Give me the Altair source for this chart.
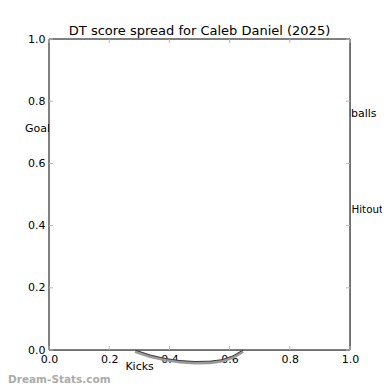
import altair as alt
import pandas as pd

title_text = "DT score spread for Caleb Daniel (2025)"
tick_values = [0.0, 0.2, 0.4, 0.6, 0.8, 1.0]

# category labels (Goals and Handballs partly hidden behind the plot frame)
under_names = ["Goals", "Handballs"]
under_x = [-0.08, 0.907]
under_y = [0.711, 0.759]

side_names = ["Hitout"]
side_x = [1.005]
side_y = [0.449]

bottom_names = ["Kicks"]
bottom_x = [0.301]
bottom_y = [-0.0545]

# the filled spread shape (hanging below the x axis)
shape_x = [0.286, 0.336, 0.385, 0.435, 0.485, 0.535, 0.575, 0.611, 0.645]
shape_y = [0.0, -0.016, -0.027, -0.034, -0.037, -0.036, -0.031, -0.019, 0.0]

watermark = ["Dream-Stats.com"]

W, H = 301, 311
FONT = "DejaVu Sans"


def xenc(field="x"):
    return alt.X(
        f"{field}:Q",
        scale=alt.Scale(domain=[0, 1], nice=False, zero=False),
        axis=alt.Axis(values=tick_values, format=".1f", ticks=False, domain=False,
                      grid=False, title=None, labelFont=FONT, labelFontSize=11,
                      labelColor="black", labelPadding=3, labelFlush=False),
    )


def yenc(field="y"):
    return alt.Y(
        f"{field}:Q",
        scale=alt.Scale(domain=[0, 1], nice=False, zero=False),
        axis=alt.Axis(values=tick_values, format=".1f", ticks=False, domain=False,
                      grid=False, title=None, labelFont=FONT, labelFontSize=11,
                      labelColor="black", labelPadding=4, labelFlush=False),
    )


under_df = pd.DataFrame({"x": under_x, "y": under_y, "t": under_names})
side_df = pd.DataFrame({"x": side_x, "y": side_y, "t": side_names})
bottom_df = pd.DataFrame({"x": bottom_x, "y": bottom_y, "t": bottom_names})
shape_df = pd.DataFrame({"x": shape_x, "y": shape_y, "i": list(range(len(shape_x)))})
frame_df = pd.DataFrame({"x": [0.0], "x2": [1.0], "y": [0.0], "y2": [1.0]})
ticks_df = pd.DataFrame({"v": tick_values})
wm_df = pd.DataFrame({"t": watermark})

under_text = alt.Chart(under_df).mark_text(
    align="left", baseline="middle", font=FONT, fontSize=11, color="black"
).encode(x=xenc(), y=yenc(), text="t:N")

frame = alt.Chart(frame_df).mark_rect(
    fill="white", stroke="black", strokeWidth=1
).encode(x=xenc(), x2="x2:Q", y=yenc(), y2="y2:Q")

side_text = alt.Chart(side_df).mark_text(
    align="left", baseline="middle", font=FONT, fontSize=10.3, color="black"
).encode(x=xenc(), y=yenc(), text="t:N")

bottom_text = alt.Chart(bottom_df).mark_text(
    align="center", baseline="middle", font=FONT, fontSize=11, color="black"
).encode(x=xenc(), y=yenc(), text="t:N")

area = alt.Chart(shape_df).mark_area(
    color="#dffcfd", opacity=1, clip=False
).encode(x=xenc(), y=yenc(), y2=alt.datum(0), order="i:Q")

outline_shadow = alt.Chart(shape_df).mark_line(
    color="#9a9a9a", strokeWidth=3, yOffset=1.5, clip=False
).encode(x=xenc(), y=yenc(), order="i:Q")

outline = alt.Chart(shape_df).mark_line(
    color="#3a3a3a", strokeWidth=1, clip=False
).encode(x=xenc(), y=yenc(), order="i:Q")

tick_color = "#b8b8b8"
tick_bottom = alt.Chart(ticks_df).mark_rule(color=tick_color, strokeWidth=1).encode(
    x=xenc("v"), y=alt.value(H), y2=alt.value(H - 4))
tick_top = alt.Chart(ticks_df).mark_rule(color=tick_color, strokeWidth=1).encode(
    x=xenc("v"), y=alt.value(0), y2=alt.value(4))
tick_left = alt.Chart(ticks_df).mark_rule(color=tick_color, strokeWidth=1).encode(
    y=yenc("v"), x=alt.value(0), x2=alt.value(4))
tick_right = alt.Chart(ticks_df).mark_rule(color=tick_color, strokeWidth=1).encode(
    y=yenc("v"), x=alt.value(W), x2=alt.value(W - 4))

wm = alt.Chart(wm_df).mark_text(
    align="left", baseline="middle", font=FONT, fontSize=10.5, fontWeight="bold",
    color="#ababab"
).encode(x=alt.value(-41), y=alt.value(H + 30), text="t:N")

chart = alt.layer(
    under_text, frame, tick_bottom, tick_top, tick_left, tick_right,
    area, outline_shadow, outline, side_text, bottom_text, wm
).properties(
    width=W, height=H,
    title=alt.TitleParams(title_text, font=FONT, fontSize=13, fontWeight="normal",
                          color="black", offset=4, dy=9, anchor="middle", frame="group"),
    autosize=alt.AutoSizeParams(type="none"),
    padding={"left": 41, "top": 31, "right": 32, "bottom": 36},
).configure_view(stroke=None).configure(background="white")

chart.save("out.html", embed_options={"renderer": "svg", "actions": False})
